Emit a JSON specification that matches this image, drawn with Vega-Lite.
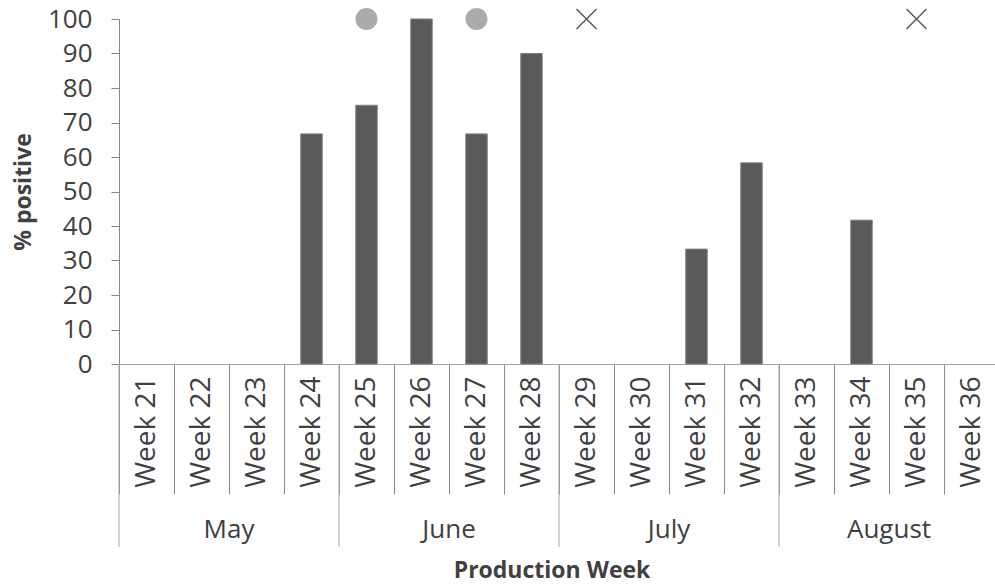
{
  "$schema": "https://vega.github.io/schema/vega-lite/v6.json",
  "padding": {"left": 12, "top": 6, "right": 0, "bottom": 6},
  "background": "white",
  "config": {
    "font": "Open Sans",
    "view": {"stroke": null},
    "axis": {"labelFont": "Open Sans", "titleFont": "Open Sans", "labelColor": "#404040", "titleColor": "#404040"},
    "axisY": {
      "grid": false,
      "tickCount": 11,
      "labelOverlap": false,
      "titleFontSize": 23,
      "titleFontWeight": "bold",
      "titlePadding": 12,
      "tickSize": 8,
      "tickColor": "#868686",
      "domainColor": "#868686",
      "labelFontSize": 26,
      "labelPadding": 19
    }
  },
  "data": {
    "values": [
      {"week": "Week 21", "month": "May", "value": 0, "marker": ""},
      {"week": "Week 22", "month": "May", "value": 0, "marker": ""},
      {"week": "Week 23", "month": "May", "value": 0, "marker": ""},
      {"week": "Week 24", "month": "May", "value": 66.7, "marker": ""},
      {"week": "Week 25", "month": "June", "value": 75, "marker": "circle"},
      {"week": "Week 26", "month": "June", "value": 100, "marker": ""},
      {"week": "Week 27", "month": "June", "value": 66.7, "marker": "circle"},
      {"week": "Week 28", "month": "June", "value": 90, "marker": ""},
      {"week": "Week 29", "month": "July", "value": 0, "marker": "cross"},
      {"week": "Week 30", "month": "July", "value": 0, "marker": ""},
      {"week": "Week 31", "month": "July", "value": 33.3, "marker": ""},
      {"week": "Week 32", "month": "July", "value": 58.3, "marker": ""},
      {"week": "Week 33", "month": "August", "value": 0, "marker": ""},
      {"week": "Week 34", "month": "August", "value": 41.7, "marker": ""},
      {"week": "Week 35", "month": "August", "value": 0, "marker": "cross"},
      {"week": "Week 36", "month": "August", "value": 0, "marker": ""}
    ]
  },
  "facet": {
    "column": {
      "field": "month",
      "type": "nominal",
      "sort": ["May", "June", "July", "August"],
      "title": "Production Week",
      "header": {
        "labelOrient": "bottom",
        "titleOrient": "bottom",
        "labelFont": "Open Sans",
        "labelFontSize": 26,
        "labelColor": "#404040",
        "labelPadding": 153,
        "titleFont": "Open Sans",
        "titleFontSize": 23,
        "titleFontWeight": "bold",
        "titleColor": "#404040",
        "titlePadding": 7
      }
    }
  },
  "spacing": 0,
  "bounds": "flush",
  "resolve": {"scale": {"x": "independent"}},
  "spec": {
    "width": 220,
    "height": 345,
    "layer": [
      {
        "mark": {"type": "bar", "color": "#595959", "stroke": "#7f7f7f", "strokeWidth": 1, "width": {"band": 0.39}},
        "encoding": {
          "x": {
            "field": "week",
            "type": "nominal",
            "sort": null,
            "scale": {"paddingInner": 0, "paddingOuter": 0},
            "axis": {
              "title": null,
              "tickBand": "extent",
              "tickSize": 130,
              "tickColor": "#8c8c8c",
              "domainColor": "#a6a6a6",
              "labelAngle": 270,
              "labelPadding": -118,
              "labelFont": "Open Sans",
              "labelFontSize": 28,
              "labelColor": "#404040"
            }
          },
          "y": {
            "field": "value",
            "type": "quantitative",
            "scale": {"domain": [0, 100], "nice": false},
            "axis": {"title": "% positive", "tickCount": 11, "labelOverlap": false, "values": [0, 10, 20, 30, 40, 50, 60, 70, 80, 90, 100]}
          },
          "opacity": {"condition": {"test": "datum.value > 0", "value": 1}, "value": 0}
        }
      },
      {
        "transform": [{"filter": "datum.marker == 'circle'"}],
        "mark": {"type": "point", "shape": "circle", "filled": true, "color": "#ababab", "opacity": 1, "size": 484},
        "encoding": {
          "x": {"field": "week", "type": "nominal", "sort": null},
          "y": {"datum": 100, "axis": {"title": "% positive", "tickCount": 11, "labelOverlap": false, "values": [0, 10, 20, 30, 40, 50, 60, 70, 80, 90, 100]}}
        }
      },
      {
        "transform": [{"filter": "datum.marker == 'cross'"}],
        "mark": {"type": "point", "shape": "M-1,-1L1,1M-1,1L1,-1", "filled": false, "stroke": "#595959", "strokeWidth": 1.5, "opacity": 1, "size": 400},
        "encoding": {
          "x": {"field": "week", "type": "nominal", "sort": null},
          "y": {"datum": 100, "axis": {"title": "% positive", "tickCount": 11, "labelOverlap": false, "values": [0, 10, 20, 30, 40, 50, 60, 70, 80, 90, 100]}}
        }
      },
      {
        "transform": [{"filter": "indexof(['Week 21','Week 25','Week 29','Week 33'], datum.week) >= 0"}],
        "mark": {"type": "rule", "clip": false, "color": "#a6a6a6", "strokeWidth": 1},
        "encoding": {
          "x": {"field": "week", "type": "nominal", "sort": null, "bandPosition": 0},
          "y": {"datum": 0, "axis": {"title": "% positive", "tickCount": 11, "labelOverlap": false, "values": [0, 10, 20, 30, 40, 50, 60, 70, 80, 90, 100]}},
          "y2": {"datum": -53}
        }
      }
    ]
  }
}
